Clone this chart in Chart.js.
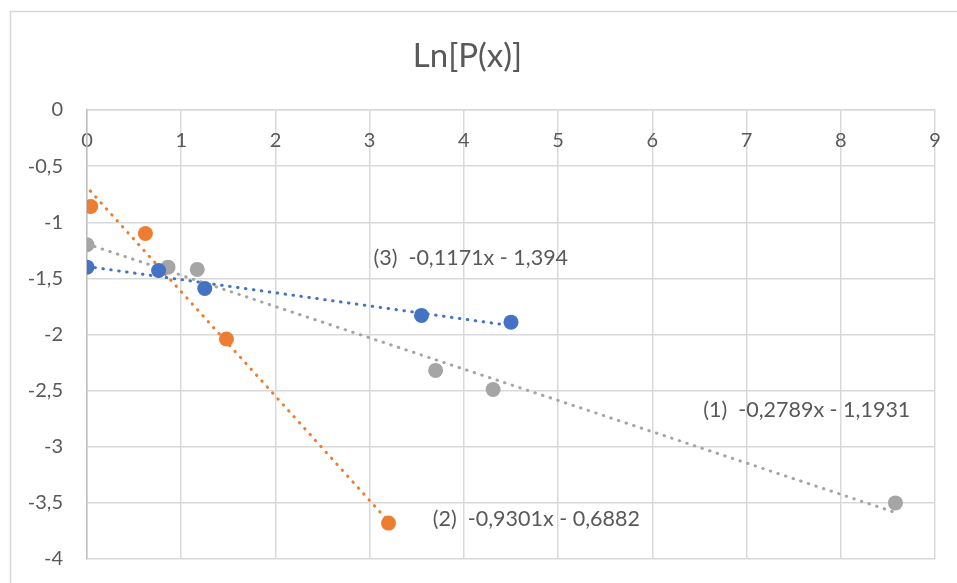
<!DOCTYPE html>
<html>
<head>
<meta charset="utf-8">
<script src="https://cdn.jsdelivr.net/npm/chart.js@4.4.1/dist/chart.umd.min.js"></script>
<style>
  html, body { margin: 0; padding: 0; background: #fff; }
  #wrap { width: 957px; height: 583px; position: relative; }
</style>
</head>
<body>
<div id="wrap"><canvas id="lnChart"></canvas></div>
<script>
// série (1) - gris
const xGris = [0, 0.86, 1.17, 3.70, 4.31, 8.58];
const yGris = [-1.20, -1.40, -1.42, -2.32, -2.49, -3.50];
// série (2) - orange
const xOrange = [0.04, 0.62, 1.48, 3.20];
const yOrange = [-0.86, -1.10, -2.04, -3.68];
// série (3) - bleu
const xBleu = [0, 0.76, 1.25, 3.55, 4.50];
const yBleu = [-1.40, -1.43, -1.59, -1.83, -1.89];

// extrémités des courbes de tendance
const trendGrisX = [0, 8.58];
const trendGrisY = [-1.193, -3.586];
const trendOrangeX = [0.035, 3.20];
const trendOrangeY = [-0.721, -3.665];
const trendBleuX = [0, 4.50];
const trendBleuY = [-1.394, -1.921];

// équations affichées
const equations = ['(1)  -0,2789x - 1,1931', '(2)  -0,9301x - 0,6882', '(3)  -0,1171x - 1,394'];
const eqX = [6.54, 3.67, 3.04];
const eqY = [-2.672, -3.643, -1.319];

// axes
const xMin = 0, xMax = 9, xStep = 1;
const yMin = -4, yMax = 0, yStep = 0.5;

const FONT = 'Lato, "Open Sans", sans-serif';
const TXT = '#595959';
const GRID = '#d9d9d9';

const pts = (xs, ys) => xs.map((x, i) => ({ x: x, y: ys[i] }));
const fmt = v => String(Math.round(v * 10) / 10).replace('.', ',');

// cadre extérieur du graphique
const framePlugin = {
  id: 'frame',
  beforeDraw(chart) {
    const c = chart.ctx;
    c.save();
    c.fillStyle = '#fff';
    c.fillRect(0, 0, chart.width, chart.height);
    c.strokeStyle = GRID;
    c.lineWidth = 1.5;
    c.beginPath();
    c.moveTo(10.5, chart.height);
    c.lineTo(10.5, 11.5);
    c.lineTo(chart.width, 11.5);
    c.stroke();
    c.restore();
  }
};

// étiquettes des équations de tendance
const eqPlugin = {
  id: 'equations',
  afterDatasetsDraw(chart) {
    const c = chart.ctx;
    const sx = chart.scales.x, sy = chart.scales.y;
    c.save();
    c.font = '21.5px ' + FONT;
    c.fillStyle = TXT;
    c.textAlign = 'left';
    c.textBaseline = 'middle';
    equations.forEach((t, i) => {
      c.fillText(t, sx.getPixelForValue(eqX[i]), sy.getPixelForValue(eqY[i]));
    });
    c.restore();
  }
};

const trendStyle = color => ({
  type: 'line',
  showLine: true,
  borderColor: color,
  borderWidth: 3,
  borderDash: [0.5, 7.5],
  borderCapStyle: 'round',
  pointRadius: 0,
  fill: false
});

new Chart(document.getElementById('lnChart'), {
  type: 'scatter',
  data: {
    datasets: [
      { label: '(3)', data: pts(xBleu, yBleu), backgroundColor: '#4472C4', pointRadius: 7.5, borderWidth: 0 },
      { label: '(2)', data: pts(xOrange, yOrange), backgroundColor: '#ED7D31', pointRadius: 7.5, borderWidth: 0 },
      { label: '(1)', data: pts(xGris, yGris), backgroundColor: '#A5A5A5', pointRadius: 7.5, borderWidth: 0 },
      Object.assign({ label: 'tendance (3)', data: pts(trendBleuX, trendBleuY) }, trendStyle('#4472C4')),
      Object.assign({ label: 'tendance (2)', data: pts(trendOrangeX, trendOrangeY) }, trendStyle('#ED7D31')),
      Object.assign({ label: 'tendance (1)', data: pts(trendGrisX, trendGrisY) }, trendStyle('#A5A5A5'))
    ]
  },
  options: {
    responsive: true,
    maintainAspectRatio: false,
    animation: false,
    layout: { padding: { left: 0, right: 22, top: 0, bottom: 24 } },
    plugins: {
      legend: { display: false },
      tooltip: { enabled: false },
      title: {
        display: true,
        text: 'Ln[P(x)]',
        color: TXT,
        font: { family: FONT, size: 33, weight: 'normal' },
        padding: { top: 37, bottom: 0 }
      }
    },
    scales: {
      x: {
        type: 'linear',
        position: 'top',
        min: xMin,
        max: xMax,
        afterFit: s => { s.height = 33.4; s.paddingLeft = 0; s.paddingRight = 0; },
        grid: { color: GRID, lineWidth: 1.5, drawTicks: false },
        border: { color: GRID, width: 1.5 },
        ticks: {
          stepSize: xStep,
          mirror: true,
          padding: 19,
          color: TXT,
          font: { family: FONT, size: 20 },
          callback: v => fmt(v)
        }
      },
      y: {
        type: 'linear',
        min: yMin,
        max: yMax,
        afterFit: s => { s.width = 87; s.paddingTop = 0; s.paddingBottom = 0; },
        grid: { color: GRID, lineWidth: 1.5, drawTicks: false },
        border: { color: '#bfbfbf', width: 1.5 },
        ticks: {
          stepSize: yStep,
          padding: 24,
          color: TXT,
          font: { family: FONT, size: 20 },
          callback: v => fmt(v)
        }
      }
    }
  },
  plugins: [framePlugin, eqPlugin]
});
</script>
</body>
</html>
